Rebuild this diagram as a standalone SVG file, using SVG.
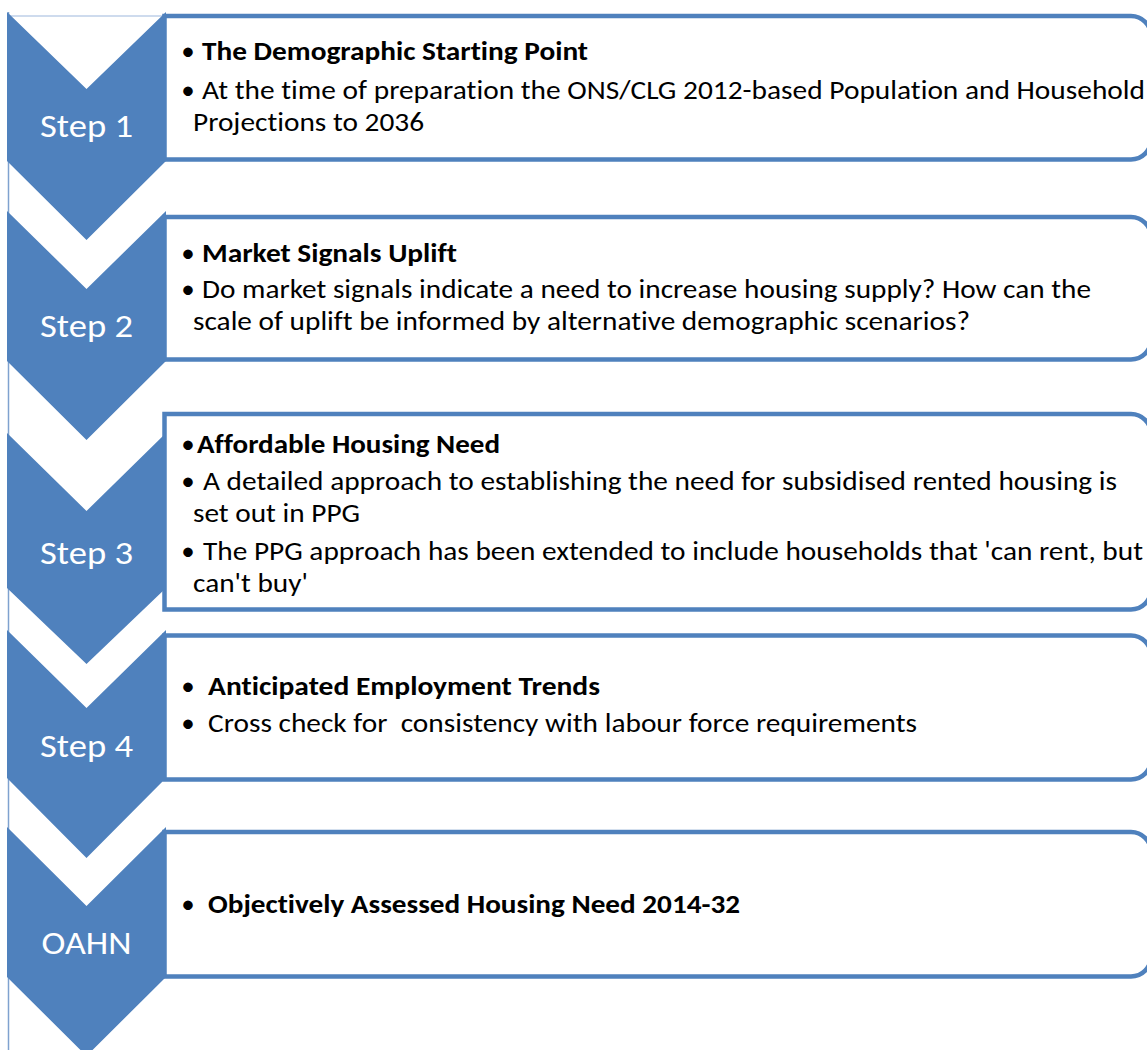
<svg xmlns="http://www.w3.org/2000/svg" width="1147" height="1050" viewBox="0 0 1147 1050">
<style>
.chev{fill:#4F81BD;}
.box{fill:#FFFFFF;stroke:#4F81BD;stroke-width:4.5;}
.lbl{font-family:Carlito,Lato,"Liberation Sans",sans-serif;font-size:33.5px;fill:#FFFFFF;text-anchor:middle;font-variant-ligatures:none;font-feature-settings:"liga" 0;}
.t{font-family:Carlito,Lato,"Liberation Sans",sans-serif;font-size:27px;fill:#000000;white-space:pre;font-variant-ligatures:none;font-feature-settings:"liga" 0;}
.b{font-weight:bold;}
.bul{font-family:Carlito,Lato,"Liberation Sans",sans-serif;font-size:27px;fill:#000000;text-anchor:middle;}
</style>
<rect x="0" y="0" width="1147" height="1050" fill="#FFFFFF"/>
<g id="connectors">
<line x1="8.5" y1="12" x2="8.5" y2="1050" stroke="#7FA2CF" stroke-width="1.5"/>
<line x1="7" y1="16" x2="166" y2="16" stroke="#9DB7DC" stroke-width="1"/>
</g>
<g id="step1">
<path class="box" d="M164.5,16 H1131 A20,20 0 0 1 1151,36 V139.5 A20,20 0 0 1 1131,159.5 H164.5 Z"/>
<polygon class="chev" points="7,12 86.5,89 166,12 166,161 86.5,240 7,161"/>
<text class="lbl" x="86.5" y="137" textLength="93" lengthAdjust="spacingAndGlyphs">Step 1</text>
<text class="bul" x="188" y="60">•</text>
<text class="t b" x="202" y="60" textLength="386" lengthAdjust="spacingAndGlyphs">The Demographic Starting Point</text>
<text class="bul" x="188" y="99">•</text>
<text class="t" x="202" y="99" textLength="943" lengthAdjust="spacingAndGlyphs">At the time of preparation the ONS/CLG 2012-based Population and Household</text>
<text class="t" x="193" y="131" textLength="231" lengthAdjust="spacingAndGlyphs">Projections to 2036</text>
</g>
<g id="step2">
<path class="box" d="M164.5,217 H1131 A20,20 0 0 1 1151,237 V339.5 A20,20 0 0 1 1131,359.5 H164.5 Z"/>
<polygon class="chev" points="7,211 86.5,289 166,211 166,361 86.5,440 7,361"/>
<text class="lbl" x="86.5" y="337" textLength="93" lengthAdjust="spacingAndGlyphs">Step 2</text>
<text class="bul" x="188" y="262">•</text>
<text class="t b" x="202" y="262" textLength="255" lengthAdjust="spacingAndGlyphs">Market Signals Uplift</text>
<text class="bul" x="188" y="298">•</text>
<text class="t" x="202" y="298" textLength="889" lengthAdjust="spacingAndGlyphs">Do market signals indicate a need to increase housing supply? How can the</text>
<text class="t" x="193" y="330" textLength="777" lengthAdjust="spacingAndGlyphs">scale of uplift be informed by alternative demographic scenarios?</text>
</g>
<g id="step3">
<polygon class="chev" points="7,433 86.5,511 166,433 166,588 86.5,664 7,588"/>
<path class="box" d="M164.5,414 H1131 A20,20 0 0 1 1151,434 V589.5 A20,20 0 0 1 1131,609.5 H164.5 Z"/>
<text class="lbl" x="86.5" y="564" textLength="93" lengthAdjust="spacingAndGlyphs">Step 3</text>
<text class="bul" x="188" y="453">•</text>
<text class="t b" x="197" y="453" textLength="303" lengthAdjust="spacingAndGlyphs">Affordable Housing Need</text>
<text class="bul" x="188" y="490">•</text>
<text class="t" x="203" y="490" textLength="914" lengthAdjust="spacingAndGlyphs">A detailed approach to establishing the need for subsidised rented housing is</text>
<text class="t" x="193" y="522" textLength="167" lengthAdjust="spacingAndGlyphs">set out in PPG</text>
<text class="bul" x="188" y="560">•</text>
<text class="t" x="203" y="560" textLength="940" lengthAdjust="spacingAndGlyphs">The PPG approach has been extended to include households that 'can rent, but</text>
<text class="t" x="193" y="592" textLength="115" lengthAdjust="spacingAndGlyphs">can't buy'</text>
</g>
<g id="step4">
<path class="box" d="M164.5,635.5 H1131 A20,20 0 0 1 1151,655.5 V759.5 A20,20 0 0 1 1131,779.5 H164.5 Z"/>
<polygon class="chev" points="7,630 86.5,708 166,630 166,778 86.5,858 7,778"/>
<text class="lbl" x="86.5" y="757" textLength="93" lengthAdjust="spacingAndGlyphs">Step 4</text>
<text class="bul" x="188" y="695">•</text>
<text class="t b" x="208" y="695" textLength="392" lengthAdjust="spacingAndGlyphs">Anticipated Employment Trends</text>
<text class="bul" x="188" y="732">•</text>
<text class="t" x="208" y="732" textLength="709" lengthAdjust="spacingAndGlyphs">Cross check for  consistency with labour force requirements</text>
</g>
<g id="oahn">
<path class="box" d="M164.5,832 H1131 A20,20 0 0 1 1151,852 V956.5 A20,20 0 0 1 1131,976.5 H164.5 Z"/>
<polygon class="chev" points="7,827 86.5,906 166,827 166,977 86.5,1056 7,977"/>
<text class="lbl" x="86.5" y="954" textLength="90" lengthAdjust="spacingAndGlyphs">OAHN</text>
<text class="bul" x="188" y="913">•</text>
<text class="t b" x="208" y="913" textLength="532" lengthAdjust="spacingAndGlyphs">Objectively Assessed Housing Need 2014-32</text>
</g>
</svg>
